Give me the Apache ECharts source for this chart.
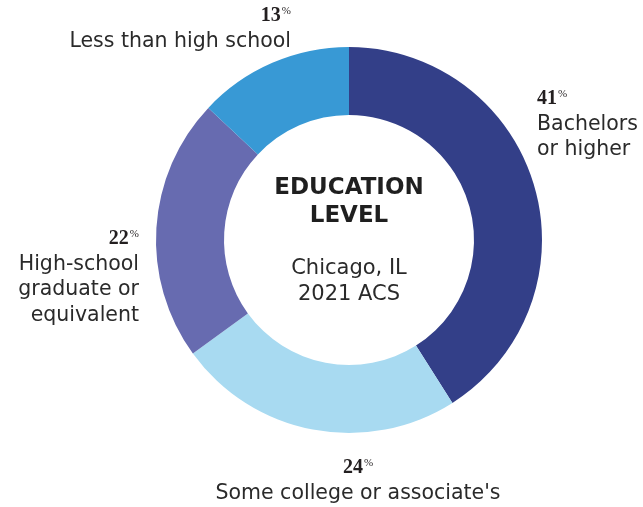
<!DOCTYPE html>
<html>
<head>
<meta charset="utf-8">
<script src="https://cdn.jsdelivr.net/npm/echarts@6/dist/echarts.min.js"></script>
<style>html,body{margin:0;padding:0;background:#fff}#c{width:643px;height:507px}</style>
</head>
<body>
<div id="c"></div>
<script>
var categories = ["Bachelors\nor higher", "Some college or associate's", "High-school\ngraduate or\nequivalent", "Less than high school"];
var values = [41, 24, 22, 13];
var colors = ["#333F88", "#A8DAF1", "#676BB0", "#3899D5"];
var labelPos = [
  {x: 537, y: 86, align: 'left'},
  {x: 358, y: 455, align: 'center'},
  {x: 139, y: 226, align: 'right'},
  {x: 291, y: 3, align: 'right'}
];
var SANS = '"DejaVu Sans", sans-serif';
var TXT = '#2a2a2a';
var chart = echarts.init(document.getElementById('c'));
chart.setOption({
  animation: false,
  backgroundColor: '#fff',
  series: [{
    type: 'pie',
    center: [349, 240],
    radius: [125, 193],
    startAngle: 90,
    clockwise: true,
    silent: true,
    data: values.map(function (v, i) {
      return {value: v, name: categories[i], itemStyle: {color: colors[i]}};
    }),
    labelLine: {show: false},
    label: {
      show: true,
      position: 'outside',
      overflow: 'none',
      color: TXT,
      formatter: function (p) {
        var lines = p.name.split('\n').map(function (l) { return '{t|' + l + '}'; });
        return '{n|' + p.value + '}{p|%}\n' + lines.join('\n');
      },
      rich: {
        n: {fontFamily: '"Liberation Serif", serif', fontWeight: 'bold', fontSize: 20, lineHeight: 25.5, color: '#231F20'},
        p: {fontFamily: '"Liberation Serif", serif', fontSize: 11, lineHeight: 25.5, verticalAlign: 'top', padding: [3, 0, 0, 1], color: '#231F20'},
        t: {fontFamily: SANS, fontSize: 20.5, lineHeight: 25.5, color: TXT}
      }
    },
    labelLayout: function (params) {
      var lp = labelPos[params.dataIndex];
      return {x: lp.x, y: lp.y, align: lp.align, verticalAlign: 'top'};
    }
  }],
  graphic: [
    {type: 'text', x: 349, y: 188, style: {text: 'EDUCATION', fill: '#1f1f1f', font: 'bold 23px ' + SANS, textAlign: 'center', textVerticalAlign: 'middle'}},
    {type: 'text', x: 349, y: 216, style: {text: 'LEVEL', fill: '#1f1f1f', font: 'bold 23px ' + SANS, textAlign: 'center', textVerticalAlign: 'middle'}},
    {type: 'text', x: 349, y: 269, style: {text: 'Chicago, IL', fill: TXT, font: '21px ' + SANS, textAlign: 'center', textVerticalAlign: 'middle'}},
    {type: 'text', x: 349, y: 295, style: {text: '2021 ACS', fill: TXT, font: '21px ' + SANS, textAlign: 'center', textVerticalAlign: 'middle'}}
  ]
});
</script>
</body>
</html>
